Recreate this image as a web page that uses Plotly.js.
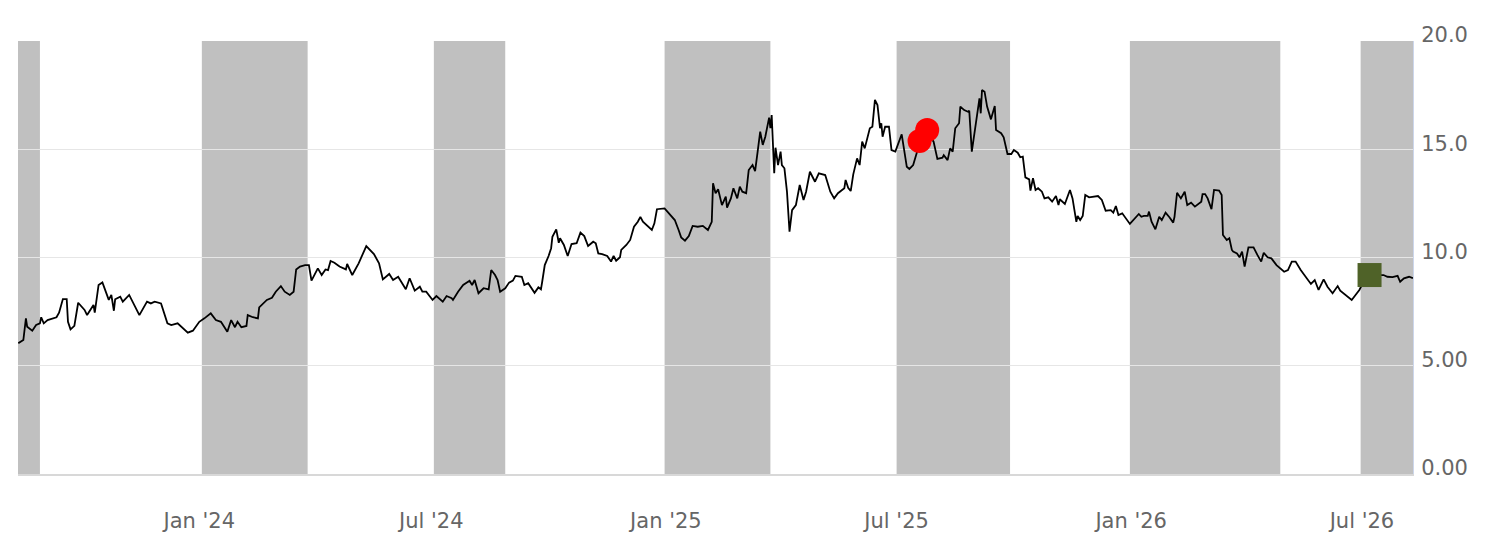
<!DOCTYPE html>
<html>
<head>
<meta charset="utf-8">
<script src="https://cdn.plot.ly/plotly-3.0.1.min.js"></script>
<style>
  html, body { margin: 0; padding: 0; background: #ffffff; }
  #chart { width: 1496px; height: 546px; }
</style>
</head>
<body>
<div id="chart"></div>
<script>
// ---- data ----
const dates = [
"2023-08-12","2023-08-16","2023-08-18","2023-08-19","2023-08-23","2023-08-26","2023-08-29","2023-08-30","2023-09-01","2023-09-04",
"2023-09-11","2023-09-13","2023-09-16","2023-09-19","2023-09-20","2023-09-22","2023-09-25","2023-09-28","2023-10-03","2023-10-05",
"2023-10-10","2023-10-11","2023-10-14","2023-10-17","2023-10-22","2023-10-24","2023-10-26","2023-10-27","2023-10-31","2023-11-02",
"2023-11-07","2023-11-15","2023-11-21","2023-11-24","2023-11-27","2023-12-02","2023-12-07","2023-12-10","2023-12-15","2023-12-23",
"2023-12-27","2024-01-01","2024-01-05","2024-01-10","2024-01-14","2024-01-18","2024-01-23","2024-01-26","2024-01-29","2024-01-31",
"2024-02-03","2024-02-07","2024-02-08","2024-02-12","2024-02-16","2024-02-17","2024-02-23","2024-02-27","2024-03-01","2024-03-05",
"2024-03-08","2024-03-12","2024-03-15","2024-03-17","2024-03-20","2024-03-24","2024-03-27","2024-03-29","2024-04-03","2024-04-06",
"2024-04-09","2024-04-11","2024-04-13","2024-04-16","2024-04-20","2024-04-25","2024-04-26","2024-04-30","2024-05-05","2024-05-11",
"2024-05-17","2024-05-21","2024-05-24","2024-05-29","2024-06-01","2024-06-05","2024-06-11","2024-06-14","2024-06-18","2024-06-22",
"2024-06-24","2024-06-27","2024-07-02","2024-07-05","2024-07-10","2024-07-13","2024-07-17","2024-07-18","2024-07-22","2024-07-26",
"2024-07-31","2024-08-02","2024-08-04","2024-08-07","2024-08-11","2024-08-15","2024-08-17","2024-08-20","2024-08-22","2024-08-24",
"2024-08-28","2024-08-31","2024-09-03","2024-09-05","2024-09-10","2024-09-12","2024-09-15","2024-09-20","2024-09-23","2024-09-25",
"2024-09-26","2024-09-28","2024-10-01","2024-10-03","2024-10-04","2024-10-07","2024-10-09","2024-10-10","2024-10-13","2024-10-16",
"2024-10-19","2024-10-23","2024-10-26","2024-10-29","2024-11-01","2024-11-05","2024-11-07","2024-11-09","2024-11-12","2024-11-16",
"2024-11-19","2024-11-21","2024-11-23","2024-11-26","2024-11-27","2024-12-01","2024-12-04","2024-12-07","2024-12-10","2024-12-12",
"2024-12-14","2024-12-18","2024-12-21","2024-12-23","2024-12-25","2024-12-31","2025-01-04","2025-01-08","2025-01-11","2025-01-13",
"2025-01-16","2025-01-19","2025-01-22","2025-01-26","2025-01-30","2025-02-03","2025-02-06","2025-02-07","2025-02-09","2025-02-11",
"2025-02-14","2025-02-17","2025-02-18","2025-02-21","2025-02-23","2025-02-26","2025-02-28","2025-03-02","2025-03-05","2025-03-07",
"2025-03-10","2025-03-12","2025-03-14","2025-03-16","2025-03-18","2025-03-20","2025-03-23","2025-03-24","2025-03-25","2025-03-27",
"2025-03-28","2025-03-30","2025-04-01","2025-04-02","2025-04-04","2025-04-06","2025-04-08","2025-04-10","2025-04-13","2025-04-16",
"2025-04-19","2025-04-21","2025-04-24","2025-04-28","2025-05-01","2025-05-06","2025-05-10","2025-05-13","2025-05-16","2025-05-21",
"2025-05-22","2025-05-24","2025-05-26","2025-05-28","2025-05-31","2025-06-02","2025-06-04","2025-06-06","2025-06-10","2025-06-12",
"2025-06-14","2025-06-16","2025-06-18","2025-06-19","2025-06-20","2025-06-22","2025-06-25","2025-06-27","2025-06-30","2025-07-05",
"2025-07-09","2025-07-11","2025-07-14","2025-07-17","2025-07-20","2025-07-23","2025-07-26","2025-07-30","2025-08-02","2025-08-06",
"2025-08-07","2025-08-10","2025-08-12","2025-08-14","2025-08-16","2025-08-19","2025-08-20","2025-08-23","2025-08-26","2025-08-27",
"2025-08-29","2025-09-01","2025-09-02","2025-09-04","2025-09-05","2025-09-06","2025-09-08","2025-09-10","2025-09-13","2025-09-16",
"2025-09-17","2025-09-21","2025-09-23","2025-09-26","2025-09-29","2025-10-01","2025-10-04","2025-10-06","2025-10-08","2025-10-10",
"2025-10-13","2025-10-14","2025-10-16","2025-10-18","2025-10-20","2025-10-23","2025-10-25","2025-10-28","2025-10-31","2025-11-03",
"2025-11-05","2025-11-06","2025-11-10","2025-11-14","2025-11-16","2025-11-19","2025-11-20","2025-11-22","2025-11-24","2025-11-26",
"2025-11-29","2025-12-04","2025-12-06","2025-12-09","2025-12-12","2025-12-16","2025-12-18","2025-12-20","2025-12-22","2025-12-25",
"2025-12-31","2026-01-07","2026-01-09","2026-01-11","2026-01-14","2026-01-15","2026-01-17","2026-01-20","2026-01-23","2026-01-25",
"2026-01-28","2026-01-31","2026-02-03","2026-02-04","2026-02-06","2026-02-09","2026-02-12","2026-02-14","2026-02-17","2026-02-20",
"2026-02-25","2026-02-26","2026-02-28","2026-03-02","2026-03-05","2026-03-07","2026-03-11","2026-03-13","2026-03-14","2026-03-17",
"2026-03-19","2026-03-21","2026-03-22","2026-03-25","2026-03-27","2026-03-29","2026-03-31","2026-04-03","2026-04-07","2026-04-10",
"2026-04-13","2026-04-15","2026-04-18","2026-04-21","2026-04-25","2026-05-01","2026-05-04","2026-05-07","2026-05-10","2026-05-14",
"2026-05-18","2026-05-22","2026-05-25","2026-05-28","2026-06-01","2026-06-04","2026-06-08","2026-06-12","2026-06-14","2026-06-18",
"2026-06-23","2026-06-26","2026-06-29","2026-07-01","2026-07-05","2026-07-09","2026-07-13","2026-07-18","2026-07-21","2026-07-25",
"2026-07-29","2026-07-31","2026-08-03","2026-08-07","2026-08-10"
];
const prices = [
6.04,6.19,7.19,6.80,6.62,6.88,6.96,7.24,6.96,7.11,
7.24,7.45,8.08,8.08,7.03,6.68,6.84,7.91,7.58,7.34,
7.81,7.45,8.73,8.85,8.04,8.27,7.54,8.07,8.19,7.96,
8.27,7.34,7.96,7.88,7.96,7.88,6.96,6.88,6.96,6.53,
6.62,7.03,7.19,7.42,7.11,7.03,6.57,7.11,6.78,7.03,
6.78,6.84,7.34,7.24,7.19,7.70,8.04,8.14,8.42,8.68,
8.42,8.27,8.42,9.45,9.58,9.65,9.65,8.93,9.50,9.19,
9.45,9.42,9.84,9.76,9.58,9.45,9.70,9.19,9.73,10.53,
10.16,9.73,8.99,9.24,8.96,9.11,8.53,9.04,8.47,8.65,
8.42,8.42,8.04,8.22,7.96,8.22,8.12,8.04,8.42,8.73,
8.93,8.73,8.96,8.35,8.58,8.53,9.42,9.19,8.96,8.42,
8.58,8.84,8.93,9.15,9.11,8.73,8.81,8.37,8.62,8.53,
8.88,9.65,10.07,10.43,10.96,11.30,10.68,10.89,10.58,10.07,
10.62,10.66,11.15,10.99,10.53,10.73,10.66,10.19,10.16,10.07,
9.81,10.07,9.85,10.01,10.35,10.58,10.81,11.42,11.65,11.88,
11.65,11.42,11.27,11.58,12.23,12.27,12.01,11.73,11.27,10.93,
10.78,10.99,11.46,11.42,11.46,11.27,11.65,13.43,12.97,13.15,
12.42,12.81,12.30,12.73,13.20,12.73,13.27,13.04,12.97,14.04,
14.27,13.99,14.89,15.81,15.20,15.58,16.46,15.97,16.58,13.89,
15.07,14.27,14.89,14.27,14.12,13.04,11.19,12.19,12.42,13.35,
12.66,13.04,13.96,13.50,13.89,13.81,13.04,12.73,12.97,13.20,
13.58,13.22,13.07,13.84,14.58,14.27,15.35,15.04,15.97,16.04,
17.28,17.04,15.97,16.20,15.58,16.04,16.04,14.96,14.89,15.69,
14.19,14.09,14.27,14.87,15.20,15.52,15.75,15.35,14.55,14.61,
14.73,14.50,15.04,14.89,15.97,16.20,16.97,16.81,16.73,16.78,
14.89,16.20,16.58,17.35,16.66,17.74,17.66,16.97,16.38,17.00,
15.89,15.74,15.55,14.78,14.78,14.96,14.84,14.63,14.66,13.70,
13.61,13.09,13.66,13.12,13.20,13.04,12.73,12.78,12.58,12.84,
12.42,12.69,12.47,13.12,12.73,11.65,11.92,11.73,11.92,12.89,
12.78,12.81,12.84,12.66,12.16,12.19,12.07,12.38,11.96,12.04,
11.55,12.01,11.88,11.92,11.92,12.12,11.65,11.30,11.88,11.73,
12.07,11.86,11.61,11.88,12.99,12.73,13.04,12.42,12.53,12.35,
12.58,12.93,12.93,12.73,12.23,13.12,13.09,12.89,11.04,10.81,
10.89,10.35,10.27,10.19,10.01,10.27,9.58,10.47,10.47,10.12,
9.81,10.22,10.01,9.96,9.65,9.34,9.42,9.81,9.81,9.42,
9.11,8.78,8.96,8.50,8.99,8.65,8.35,8.68,8.47,8.27,
8.04,8.27,8.50,8.73,8.96,9.15,9.19,9.19,9.11,9.09,
9.15,8.88,9.04,9.11,9.04
];

// highlighted points
const redDates = ["2025-07-19", "2025-07-25"];
const redValues = [15.38, 15.89];
const greenDates = ["2026-07-07"];
const greenValues = [9.19];

// shaded periods
const bandStarts = ["2023-07-01", "2024-01-03", "2024-07-03", "2024-12-31", "2025-07-01", "2025-12-31", "2026-06-30"];
const bandEnds   = ["2023-08-29", "2024-03-26", "2024-08-28", "2025-03-24", "2025-09-28", "2026-04-28", "2026-09-30"];

// axes
const xRange = ["2023-08-11 19:00", "2026-08-10 02:00"];
const xTickVals = ["2024-01-01", "2024-07-01", "2025-01-01", "2025-07-01", "2026-01-01", "2026-07-01"];
const xTickText = ["Jan '24", "Jul '24", "Jan '25", "Jul '25", "Jan '26", "Jul '26"];
const yTickVals = [0, 5, 10, 15, 20];
const yTickText = ["0.00", "5.00", "10.0", "15.0", "20.0"];

// ---- chart ----
const traces = [
  {
    type: 'scatter', mode: 'lines', x: dates, y: prices,
    line: { color: '#000000', width: 1.8 }, hoverinfo: 'skip'
  },
  {
    type: 'scatter', mode: 'markers', x: redDates, y: redValues,
    marker: { color: '#ff0000', size: 24, symbol: 'circle', line: { width: 0 } }
  },
  {
    type: 'scatter', mode: 'markers', x: greenDates, y: greenValues,
    marker: { color: '#4f6228', size: 24, symbol: 'square', line: { width: 0 } }
  }
];

const shapes = bandStarts.map((s, i) => ({
  type: 'rect', xref: 'x', yref: 'paper',
  x0: s, x1: bandEnds[i], y0: 0, y1: 1,
  fillcolor: '#c0c0c0', line: { width: 0 }, layer: 'below'
}));

const tickFont = { family: 'DejaVu Sans, Verdana, sans-serif', size: 21, color: '#666666' };

const layout = {
  width: 1496, height: 546,
  margin: { l: 18, r: 83, t: 41, b: 72, pad: 0 },
  paper_bgcolor: '#ffffff', plot_bgcolor: '#ffffff',
  showlegend: false,
  font: tickFont,
  xaxis: {
    type: 'date', range: xRange,
    tickmode: 'array', tickvals: xTickVals, ticktext: xTickText,
    showgrid: false, zeroline: false,
    showline: true, linecolor: '#d8d8d8', linewidth: 2,
    ticks: '', ticklabelstandoff: 27,
    tickfont: tickFont,
    fixedrange: true
  },
  yaxis: {
    side: 'right', range: [0, 20],
    tickmode: 'array', tickvals: yTickVals, ticktext: yTickText,
    showgrid: true, gridcolor: '#e6e6e6', gridwidth: 1,
    zeroline: false,
    showline: true, linecolor: '#ccd6eb', linewidth: 1,
    ticks: '', ticklabelstandoff: 3, ticklabelshift: -6,
    tickfont: tickFont,
    fixedrange: true
  },
  shapes: shapes
};

Plotly.newPlot('chart', traces, layout, { staticPlot: true, displayModeBar: false });
</script>
</body>
</html>
